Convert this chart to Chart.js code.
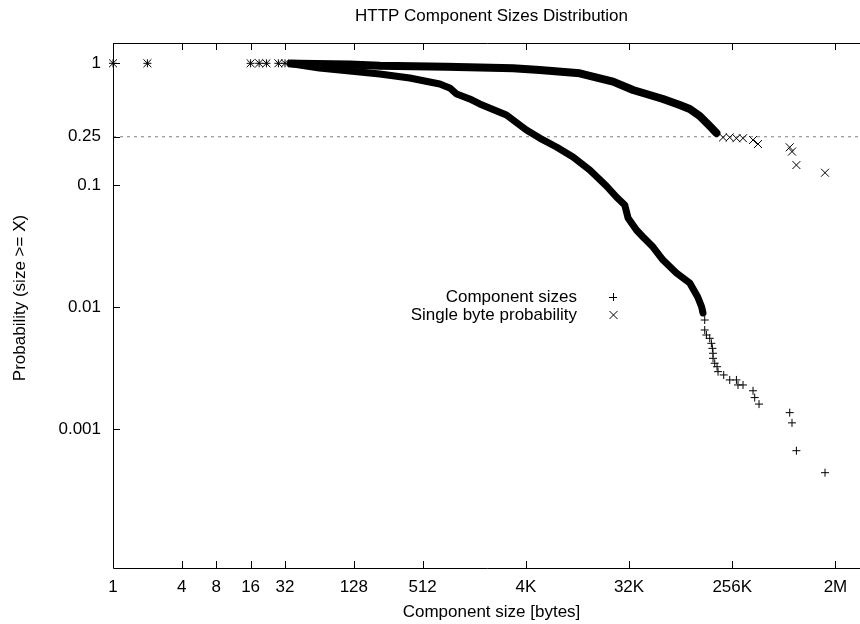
<!DOCTYPE html>
<html lang="en">
<head>
    <meta charset="UTF-8">
    <title>HTTP Component Sizes Distribution</title>
    <script src="https://cdn.jsdelivr.net/npm/chart.js"></script>
    <style>
        html, body {
            margin: 0;
            padding: 0;
            background: #fff;
            overflow: hidden;
        }
    </style>
</head>
<body>
    <canvas id="sizesChart" width="860" height="624"></canvas>

    <script>
        // axis ticks (log2 on x, log10 on y)
        const xTickValues = [1, 4, 8, 16, 32, 128, 512, 4096, 32768, 262144, 2097152];
        const xTickLabels = ['1', '4', '8', '16', '32', '128', '512', '4K', '32K', '256K', '2M'];
        const yTickValues = [1, 0.25, 0.1, 0.01, 0.001];
        const yTickLabels = ['1', '0.25', '0.1', '0.01', '0.001'];

        // Component sizes: dense part of the curve (reads as a thick band)
        const compBandX = [36, 43, 64, 118, 216, 395, 723, 884, 1018, 1322, 1618, 2771, 4144, 5420, 7592, 10600, 14850, 20780, 25420, 30050, 32120, 38040, 43450, 53160, 65000, 85160, 111400, 130800, 141700, 145400];
        const compBandY = [0.995, 0.968, 0.915, 0.865, 0.817, 0.758, 0.677, 0.628, 0.56, 0.51, 0.464, 0.377, 0.284, 0.244, 0.206, 0.1706, 0.1334, 0.0987, 0.0802, 0.069, 0.054, 0.043, 0.0377, 0.0312, 0.0244, 0.0191, 0.0158, 0.01215, 0.01006, 0.00898];
        // Component sizes: isolated points
        const compPtsX = [1, 2, 16, 19, 22, 28, 32, 150600, 150600, 155800, 166600, 172300, 175800, 178000, 178000, 184200, 193000, 196900, 220800, 249200, 285200, 294600, 325800, 398500, 412300, 449800, 834700, 874000, 955000, 1700000];
        const compPtsY = [1, 1, 1, 1, 1, 1, 1, 0.00787, 0.00652, 0.00593, 0.00557, 0.00507, 0.00461, 0.0042, 0.00382, 0.00348, 0.00326, 0.00297, 0.00279, 0.00254, 0.00254, 0.00231, 0.00231, 0.00207, 0.00182, 0.00161, 0.00137, 0.00113, 0.000668, 0.000441];

        // Single byte probability: dense part
        const byteBandX = [36, 43, 118, 216, 827, 3165, 5420, 12140, 14850, 23740, 35520, 44960, 65000, 91050, 111400, 136200, 166600, 190700];
        const byteBandY = [0.995, 0.991, 0.978, 0.956, 0.938, 0.91, 0.881, 0.828, 0.79, 0.707, 0.604, 0.566, 0.51, 0.455, 0.422, 0.37, 0.306, 0.268];
        // Single byte probability: isolated points
        const bytePtsX = [1, 2, 16, 19, 22, 28, 32, 217800, 249200, 285200, 325800, 398500, 440800, 834700, 874000, 955000, 1700000];
        const bytePtsY = [1, 1, 1, 1, 1, 1, 1, 0.247, 0.247, 0.243, 0.243, 0.235, 0.218, 0.205, 0.189, 0.1466, 0.1268];

        // reference line
        const refLineX = [1, 3440000];
        const refLineY = [0.25, 0.25];

        const FONT = '"Liberation Sans", Arial, sans-serif';

        function toPoints(xs, ys) {
            return xs.map((v, i) => ({ x: v, y: ys[i] }));
        }

        // gnuplot-like frame, inward ticks, titles and key
        // (the right side of the frame lies just outside the picture)
        const framePlugin = {
            id: 'frame',
            afterDraw(chart) {
                const { ctx, chartArea: a, scales } = chart;
                const xs = scales.x, ys = scales.y;
                ctx.save();
                ctx.strokeStyle = '#000';
                ctx.lineWidth = 1;
                ctx.beginPath();
                ctx.rect(a.left + 0.5, a.top + 0.5, a.right - a.left + 10, a.bottom - a.top);
                xTickValues.forEach(v => {
                    const px = Math.round(xs.getPixelForValue(v)) + 0.5;
                    ctx.moveTo(px, a.bottom);
                    ctx.lineTo(px, a.bottom - 7);
                    ctx.moveTo(px, a.top);
                    ctx.lineTo(px, a.top + 7);
                });
                yTickValues.forEach(v => {
                    const py = Math.round(ys.getPixelForValue(v)) + 0.5;
                    ctx.moveTo(a.left, py);
                    ctx.lineTo(a.left + 7, py);
                });
                ctx.stroke();

                ctx.font = '17px ' + FONT;
                ctx.fillStyle = '#000';

                // titles (centred on the full frame, which is 870 wide)
                const midX = (a.left + a.right + 10) / 2;
                ctx.textAlign = 'center';
                ctx.textBaseline = 'middle';
                ctx.fillText('HTTP Component Sizes Distribution', midX, 16.2);
                ctx.fillText('Component size [bytes]', midX, 612.5);
                ctx.save();
                ctx.translate(20.5, 298);
                ctx.rotate(-Math.PI / 2);
                ctx.fillText('Probability (size >= X)', 0, 0);
                ctx.restore();

                // key
                ctx.textAlign = 'right';
                ctx.textBaseline = 'alphabetic';
                ctx.fillText('Component sizes', 577, 302);
                ctx.fillText('Single byte probability', 577, 320);
                ctx.beginPath();
                ctx.moveTo(609, 297.5); ctx.lineTo(617, 297.5);
                ctx.moveTo(613.5, 293); ctx.lineTo(613.5, 301);
                ctx.moveTo(609.5, 311); ctx.lineTo(617.5, 319);
                ctx.moveTo(617.5, 311); ctx.lineTo(609.5, 319);
                ctx.stroke();
                ctx.restore();
            }
        };

        function renderChart() {
            const ctx = document.getElementById('sizesChart').getContext('2d');
            new Chart(ctx, {
                type: 'scatter',
                data: {
                    datasets: [
                        {
                            label: 'Component sizes',
                            data: toPoints(compPtsX, compPtsY),
                            pointStyle: 'cross',
                            pointRadius: 4,
                            pointBorderWidth: 1,
                            borderColor: '#000',
                            backgroundColor: '#000',
                            clip: false
                        },
                        {
                            label: 'Single byte probability',
                            data: toPoints(bytePtsX, bytePtsY),
                            pointStyle: 'crossRot',
                            pointRadius: 5.6,
                            pointBorderWidth: 1,
                            borderColor: '#000',
                            backgroundColor: '#000',
                            clip: false
                        },
                        {
                            label: 'comp band',
                            data: toPoints(compBandX, compBandY),
                            showLine: true,
                            borderWidth: 7,
                            borderColor: '#000',
                            pointRadius: 0,
                            borderJoinStyle: 'round',
                            borderCapStyle: 'round',
                            clip: false
                        },
                        {
                            label: 'byte band',
                            data: toPoints(byteBandX, byteBandY),
                            showLine: true,
                            borderWidth: 8,
                            borderColor: '#000',
                            pointRadius: 0,
                            borderJoinStyle: 'round',
                            borderCapStyle: 'round',
                            clip: false
                        },
                        {
                            label: 'ref',
                            data: toPoints(refLineX, refLineY),
                            showLine: true,
                            borderWidth: 1,
                            borderColor: '#808080',
                            borderDash: [3, 4],
                            pointRadius: 0
                        }
                    ]
                },
                options: {
                    responsive: false,
                    animation: false,
                    layout: { autoPadding: false, padding: { left: 0, right: 0, top: 43, bottom: 0 } },
                    plugins: {
                        legend: { display: false },
                        tooltip: { enabled: false },
                        title: { display: false }
                    },
                    scales: {
                        x: {
                            type: 'logarithmic',
                            min: 1,
                            max: 3440000,
                            bounds: 'data',
                            grid: { display: false, drawTicks: false },
                            border: { display: false },
                            afterBuildTicks: scale => {
                                scale.ticks = xTickValues.map(v => ({ value: v }));
                            },
                            afterFit: scale => {
                                scale.height = 56;
                                scale.paddingLeft = 0;
                                scale.paddingRight = 0;
                            },
                            ticks: {
                                autoSkip: false,
                                maxRotation: 0,
                                padding: 9,
                                color: '#000',
                                font: { family: FONT, size: 17 },
                                callback: (value, index) => xTickLabels[index]
                            }
                        },
                        y: {
                            type: 'logarithmic',
                            min: 7.3e-5,
                            max: 1.467,
                            bounds: 'data',
                            grid: { display: false, drawTicks: false },
                            border: { display: false },
                            afterBuildTicks: scale => {
                                scale.ticks = yTickValues.map(v => ({ value: v }));
                            },
                            afterFit: scale => {
                                scale.width = 113;
                                scale.paddingTop = 0;
                                scale.paddingBottom = 0;
                            },
                            ticks: {
                                autoSkip: false,
                                padding: 12,
                                color: '#000',
                                font: { family: FONT, size: 17 },
                                callback: (value, index) => yTickLabels[index]
                            }
                        }
                    }
                },
                plugins: [framePlugin]
            });
        }

        window.onload = renderChart;
    </script>
</body>
</html>
